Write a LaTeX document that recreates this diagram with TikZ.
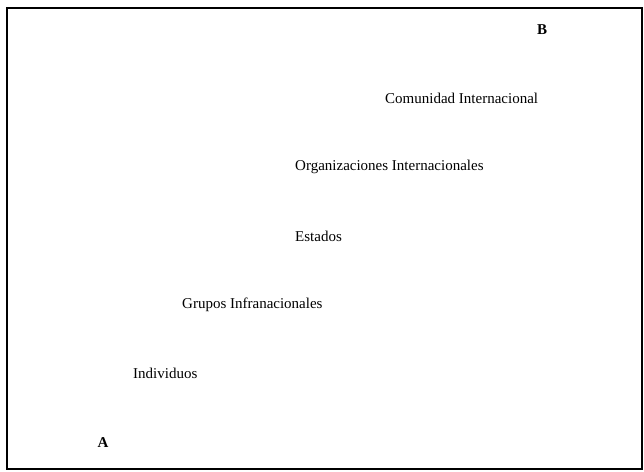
\documentclass[tikz,border=0pt]{standalone}
\usepackage{fontspec}
\setmainfont{Liberation Serif}
\begin{document}
\begin{tikzpicture}[x=1pt,y=-1pt,
  lbl/.style={font=\fontsize{15}{17}\selectfont, inner sep=0pt, anchor=west},
  corner/.style={font=\fontsize{15}{17}\selectfont\bfseries, inner sep=0pt}]
\useasboundingbox (0,0) rectangle (644,471);
\fill[white] (0,0) rectangle (644,471);
\draw[line width=2pt] (7,8) rectangle (642,469);
\node[corner] (B) at (542,30) {B};
\node[corner] (A) at (103,443) {A};
\node[lbl] (com) at (385,98) {Comunidad Internacional};
\node[lbl] (org) at (295,167) {Organizaciones Internacionales};
\node[lbl] (est) at (295,236) {Estados};
\node[lbl] (gru) at (182,305) {Grupos Infranacionales};
\node[lbl] (ind) at (133,373) {Individuos};
\end{tikzpicture}
\end{document}
